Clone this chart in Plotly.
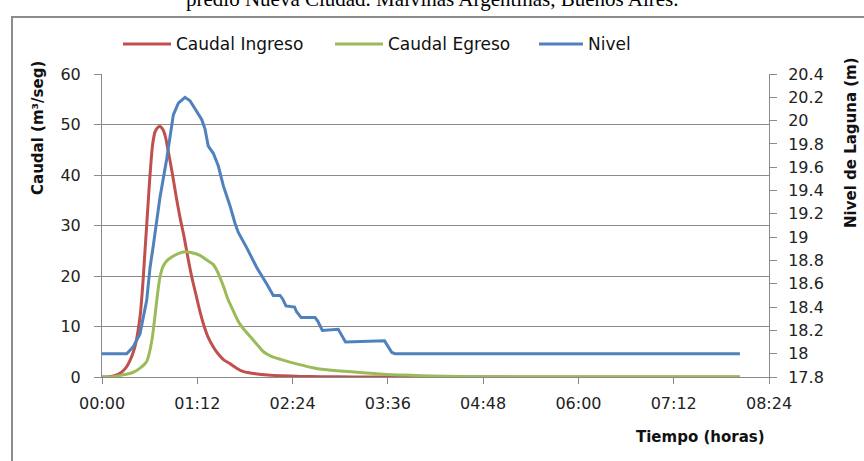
import plotly.graph_objects as go

# ---- data (time in minutes) ----
ingreso_t = [0, 5, 10, 14, 18, 21, 24, 26, 28, 29, 30, 31, 32, 33, 34, 35, 36, 37, 38, 39, 40, 42, 44, 46, 48, 50,
             53, 56, 59, 62, 65, 68, 71, 74, 77, 80, 84, 88, 92, 97, 102, 107, 112, 117, 125, 135, 150, 165, 190, 225, 482]
ingreso_q = [0, 0.05, 0.3, 0.8, 1.8, 3.2, 5.2, 7.3, 10.5, 12.5, 15.5, 19, 23, 27, 31, 35, 39, 42.5, 45.5, 47.3, 48.5, 49.4, 49.6, 49, 47.5, 44.8,
             40.5, 35.8, 31.5, 27.8, 23.5, 19.6, 16.3, 13, 10.2, 8, 6, 4.5, 3.4, 2.6, 1.7, 1.05, 0.8, 0.6, 0.4, 0.25, 0.12, 0.05, 0.02, 0, 0]

egreso_t = [0, 8, 12, 17, 21, 25, 29, 32, 34, 35, 36, 37, 38, 39, 40, 41, 42, 43, 44, 46, 49, 53, 58, 63, 68, 74, 79, 84, 87, 89,
            92, 95, 99, 103, 107, 112, 117, 122, 128, 135, 147, 162, 180, 197, 215, 233, 250, 270, 300, 330, 482]
egreso_q = [0, 0.05, 0.2, 0.5, 0.7, 1.1, 1.8, 2.5, 3.2, 4.0, 5.0, 6.3, 7.8, 9.8, 12, 14.3, 16.5, 18.5, 20, 21.8, 23, 23.8, 24.5, 24.8, 24.6, 24.1, 23.2, 22.3, 21, 19.8,
            17.8, 15.5, 13.2, 11, 9.5, 8, 6.5, 5, 4.1, 3.5, 2.6, 1.7, 1.2, 0.85, 0.5, 0.35, 0.2, 0.1, 0.04, 0, 0]

nivel_t = [0, 18.7, 23.6, 28.7, 33.8, 36.3, 38.8, 43.8, 48.9, 53.9, 57.7, 62.7, 66.5, 71.6, 75.3, 77.8, 80.3, 84.1, 87.9,
           91.7, 96.7, 100.5, 103, 109.3, 116.9, 124.4, 129.4, 134.5, 136.5, 139, 145.5, 147, 150.5, 161, 163, 166.5,
           178.5, 180.5, 184, 213.5, 216, 219, 221.5, 482]
nivel_h = [18.0, 18.0, 18.06, 18.17, 18.46, 18.74, 18.93, 19.34, 19.67, 20.05, 20.15, 20.20, 20.17, 20.07, 20.01, 19.93, 19.78, 19.72, 19.61,
           19.44, 19.27, 19.12, 19.04, 18.91, 18.74, 18.60, 18.50, 18.50, 18.47, 18.41, 18.40, 18.36, 18.31, 18.31, 18.28, 18.20,
           18.21, 18.17, 18.10, 18.11, 18.06, 18.01, 18.0, 18.0]

x_tickvals = [0, 72, 144, 216, 288, 360, 432, 504]
x_ticktext = ["00:00", "01:12", "02:24", "03:36", "04:48", "06:00", "07:12", "08:24"]
y2_tickvals = [17.8, 18.0, 18.2, 18.4, 18.6, 18.8, 19.0, 19.2, 19.4, 19.6, 19.8, 20.0, 20.2, 20.4]
y2_ticktext = ["17.8", "18", "18.2", "18.4", "18.6", "18.8", "19", "19.2", "19.4", "19.6", "19.8", "20", "20.2", "20.4"]
series_names = ["Caudal Ingreso", "Caudal Egreso", "Nivel"]

RED = "#C0504D"
GREEN = "#9BBB59"
BLUE = "#4F81BD"
GRID = "#8a8a8a"
FONT = "DejaVu Sans"

W, H = 864, 461
L, R, T, B = 102, 95, 74, 84
PW, PH = W - L - R, H - T - B


def px(x):
    return (x - L) / PW


def py(y):
    return (H - B - y) / PH


fig = go.Figure()
fig.add_trace(go.Scatter(x=ingreso_t, y=ingreso_q, name=series_names[0], mode="lines",
                         line=dict(color=RED, width=3, shape="spline", smoothing=0.6)))
fig.add_trace(go.Scatter(x=egreso_t, y=egreso_q, name=series_names[1], mode="lines",
                         line=dict(color=GREEN, width=3, shape="spline", smoothing=0.6)))
fig.add_trace(go.Scatter(x=nivel_t, y=nivel_h, name=series_names[2], mode="lines", yaxis="y2",
                         line=dict(color=BLUE, width=3)))

# manual legend (line samples + labels)
legend_items = [(123, 171, 174, RED), (335, 383, 386, GREEN), (539, 583, 586, BLUE)]
shapes = [
    dict(type="rect", xref="paper", yref="paper", x0=px(12), x1=px(900),
         y0=py(480), y1=py(17), line=dict(color="#8c8c8c", width=2), layer="below"),
]
annotations = [
    dict(text="predio Nueva Ciudad. Malvinas Argentinas, Buenos Aires.", xref="paper", yref="paper",
         x=px(432), y=py(-1), xanchor="center", yanchor="middle", showarrow=False,
         font=dict(family="Liberation Serif", size=21, color="#000")),
    dict(text="<b>Caudal (m³/seg)</b>", xref="paper", yref="paper", x=px(38), y=py(128),
         xanchor="center", yanchor="middle", textangle=-90, showarrow=False,
         font=dict(family=FONT, size=15, color="#111")),
    dict(text="<b>Nivel de Laguna (m)</b>", xref="paper", yref="paper", x=px(851), y=py(143),
         xanchor="center", yanchor="middle", textangle=-90, showarrow=False,
         font=dict(family=FONT, size=15, color="#111")),
    dict(text="<b>Tiempo (horas)</b>", xref="paper", yref="paper", x=px(700), y=py(437),
         xanchor="center", yanchor="middle", showarrow=False,
         font=dict(family=FONT, size=15, color="#111")),
]
for (x0, x1, xt, col), name in zip(legend_items, series_names):
    shapes.append(dict(type="line", xref="paper", yref="paper", x0=px(x0), x1=px(x1), y0=py(44), y1=py(44),
                       line=dict(color=col, width=3)))
    annotations.append(dict(text=name, xref="paper", yref="paper", x=px(xt), y=py(44), xanchor="left",
                            yanchor="middle", showarrow=False, font=dict(family=FONT, size=17, color="#111")))

fig.update_layout(
    width=W, height=H,
    margin=dict(l=L, r=R, t=T, b=B),
    paper_bgcolor="white", plot_bgcolor="white",
    font=dict(family=FONT, size=16, color="#222"),
    showlegend=False,
    xaxis=dict(range=[0, 504], tickvals=x_tickvals, ticktext=x_ticktext, showgrid=False,
               showline=True, linecolor=GRID, linewidth=1, ticks="outside", ticklen=6, tickcolor=GRID,
               ticklabelstandoff=6, zeroline=False, tickfont=dict(size=16, color="#222")),
    yaxis=dict(range=[0, 60], dtick=10, showgrid=True, gridcolor=GRID, gridwidth=1,
               showline=True, linecolor=GRID, linewidth=1, ticks="outside", ticklen=7, tickcolor=GRID,
               ticklabelstandoff=10, zeroline=False, tickfont=dict(size=16, color="#222")),
    yaxis2=dict(range=[17.8, 20.4], tickvals=y2_tickvals, ticktext=y2_ticktext, overlaying="y", side="right",
                showgrid=False, showline=True, linecolor=GRID, linewidth=1, ticks="outside", ticklen=7,
                tickcolor=GRID, ticklabelstandoff=8, zeroline=False, tickfont=dict(size=16, color="#222")),
    annotations=annotations,
    shapes=shapes,
)

fig.write_html("out.html", config={"displayModeBar": False},
               post_script="document.body.style.margin='0';document.body.style.overflow='hidden';")
